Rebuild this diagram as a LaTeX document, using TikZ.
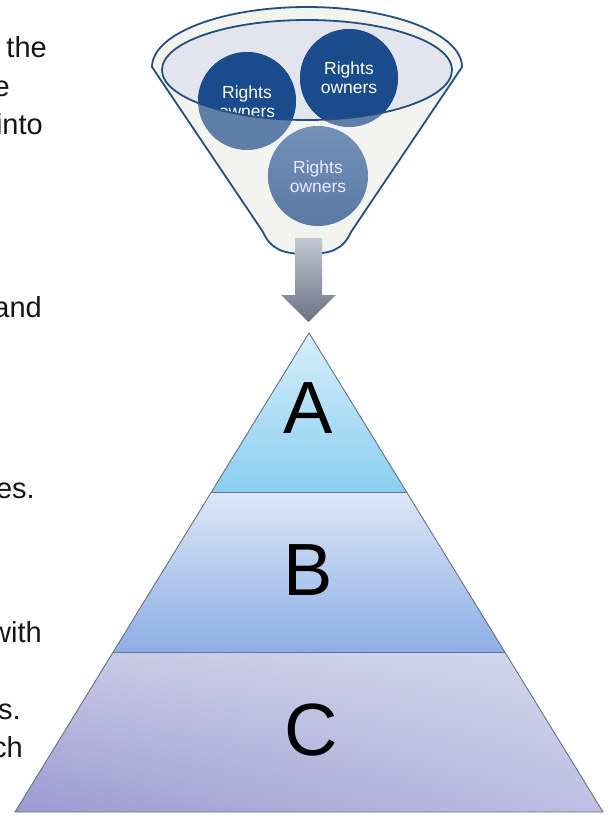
\documentclass[tikz,border=0pt]{standalone}
\usepackage{fontspec}
\setmainfont{Liberation Sans}
\usetikzlibrary{shadings}
\definecolor{txt}{HTML}{151515}
\definecolor{navyline}{HTML}{24507F}
\definecolor{funfill}{HTML}{F3F3F0}
\definecolor{ellfill}{HTML}{E3E5EE}
\definecolor{navy}{HTML}{1A4B8D}
\definecolor{steel}{HTML}{5F7EA8}
\definecolor{steeltop}{HTML}{7391B7}
\definecolor{steelbot}{HTML}{5B79A3}
\definecolor{arrtop}{HTML}{C2C8D4}
\definecolor{arrbot}{HTML}{6C7283}
\definecolor{pyr}{HTML}{667282}
\definecolor{atop}{HTML}{D6EEFA}
\definecolor{abot}{HTML}{8ACFF0}
\definecolor{btop}{HTML}{DDE6F6}
\definecolor{bbot}{HTML}{8DAEE6}
\definecolor{cul}{HTML}{C7C7E5}
\definecolor{cur}{HTML}{D6D8EE}
\definecolor{cll}{HTML}{9C99D0}
\definecolor{clr}{HTML}{BEBFE2}
\definecolor{divline}{HTML}{5E78A4}
\begin{document}
\begin{tikzpicture}[x=1pt,y=-1pt,
  sidetext/.style={anchor=base east, inner sep=0pt, font=\fontsize{29}{35}\selectfont, text=txt},
  rcirc/.style={circle, minimum size=98pt, inner sep=0pt},
  rtext/.style={align=center, inner sep=0pt, font=\fontsize{17.5}{19}\selectfont, text=white},
  layerletter/.style={font=\fontsize{74}{80}\selectfont, inner sep=0pt, text=black},
  pyrline/.style={draw=pyr, line width=0.9pt},
  funline/.style={draw=navyline, line width=1.8pt}]
\useasboundingbox (0,0) rectangle (608,815);
\fill[white] (0,0) rectangle (608,815);

% side text fragments
\node[sidetext] (n1) at (47,57) {the};
\node[sidetext] (n2) at (10,96) {e};
\node[sidetext] (n3) at (43,134) {into};
\node[sidetext] (n4) at (42,317) {and};
\node[sidetext] (n5) at (35,498) {es.};
\node[sidetext] (n6) at (42,642) {with};
\node[sidetext] (n7) at (21,719) {s.};
\node[sidetext] (n8) at (23,757) {ch};

% funnel body
\path[funline, fill=funfill] (152,67) .. controls (152,34) and (221,7) .. (307,7)
  .. controls (393,7) and (462,34) .. (462,67) -- (351,232)
  .. controls (343,250) and (330,254) .. (307,254)
  .. controls (284,254) and (271,250) .. (263,232) -- cycle;
% inner ellipse
\fill[ellfill] (307,70) ellipse [x radius=145, y radius=50];

% circles (outer, lighter part)
\node[rcirc, fill=steel] (c1) at (247,101) {};
\node[rcirc, fill=steel] (c2) at (349,78) {};
\shade[top color=steeltop, bottom color=steelbot] (318,176) circle (50);
\node[rcirc, minimum size=100pt] (c3) at (318,176) {};
\node[rtext, text=white!92!blue] (t3) at (318,176.5) {Rights\\owners};

% parts inside the inner ellipse
\begin{scope}
  \clip (307,70) ellipse [x radius=145, y radius=50];
  \fill[navy] (c1.center) circle (49);
  \fill[navy] (c2.center) circle (49);
  \node[rtext] (t1) at (247,101.5) {Rights\\owners};
  \node[rtext] (t2) at (349,77.5) {Rights\\owners};
\end{scope}
\draw[funline] (307,70) ellipse [x radius=145, y radius=50];

% arrow
\shade[top color=arrtop, bottom color=arrbot] (295,238) -- (322,238) -- (322,295) -- (336,295)
  -- (308.5,322) -- (281,295) -- (295,295) -- cycle;

% pyramid
\shade[top color=atop, bottom color=abot] (309,333) -- (406.6,492) -- (211.4,492) -- cycle;
\shade[top color=btop, bottom color=bbot] (211.4,492) -- (406.6,492) -- (505,652) -- (113,652) -- cycle;
\shade[upper left=cul, upper right=cur, lower left=cll, lower right=clr] (113,652) -- (505,652) -- (603,812) -- (15,812) -- cycle;
\draw[pyrline] (309,333) -- (603,812) -- (15,812) -- cycle;
\draw[pyrline] (211.4,492) -- (406.6,492);
\draw[draw=divline, line width=1pt] (113,652) -- (505,652);

\node[layerletter] (la) at (308,408) {A};
\node[layerletter] (lb) at (308,570) {B};
\node[layerletter] (lc) at (311,730) {C};
\end{tikzpicture}
\end{document}
